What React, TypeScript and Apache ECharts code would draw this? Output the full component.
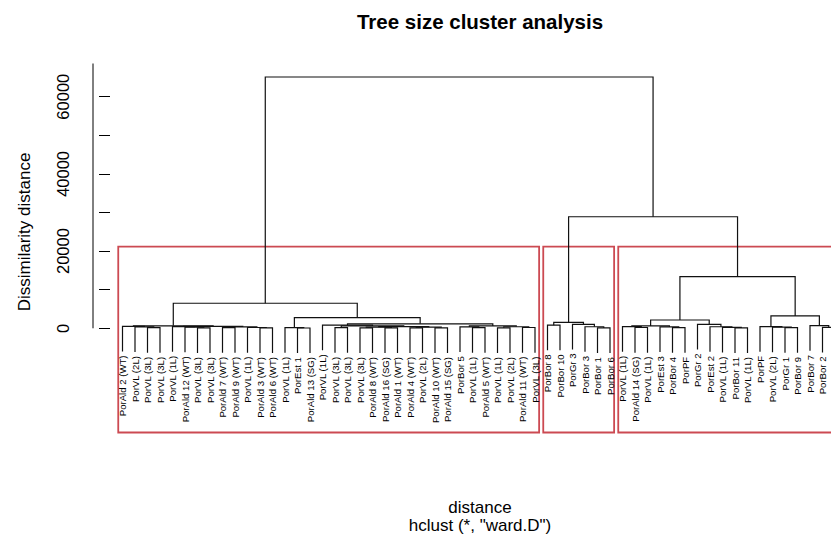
import React, { useEffect, useRef } from "react";
import * as echarts from "echarts";

// Leaf labels in dendrogram order (leaf 58 lies beyond the right edge of the picture)
const leafLabels: string[] = [
  "PorAld 2 (WT)", "PorVL (2L)", "PorVL (3L)", "PorVL (3L)", "PorVL (1L)",
  "PorAld 12 (WT)", "PorVL (3L)", "PorVL (3L)", "PorAld 7 (WT)", "PorAld 9 (WT)",
  "PorVL (1L)", "PorAld 3 (WT)", "PorAld 6 (WT)", "PorVL (1L)", "PorEst 1",
  "PorAld 13 (SG)", "PorVL (1L)", "PorVL (3L)", "PorVL (3L)", "PorVL (3L)",
  "PorAld 8 (WT)", "PorAld 16 (SG)", "PorAld 1 (WT)", "PorAld 4 (WT)", "PorVL (2L)",
  "PorAld 10 (WT)", "PorAld 15 (SG)", "PorBor 5", "PorVL (1L)", "PorAld 5 (WT)",
  "PorVL (1L)", "PorVL (2L)", "PorAld 11 (WT)", "PorVL (3L)",
  "PorBor 8", "PorBor 10", "PorGr 3", "PorBor 3", "PorBor 1", "PorBor 6",
  "PorVL (1L)", "PorAld 14 (SG)", "PorVL (1L)", "PorEst 3", "PorBor 4",
  "PorPF", "PorGr 2", "PorEst 2", "PorVL (1L)", "PorBor 11",
  "PorVL (1L)", "PorPF", "PorVL (2L)", "PorGr 1", "PorBor 9",
  "PorBor 7", "PorBor 2", "",
];

// hclust-style merge table: negative = leaf (1-based), positive = earlier merge (1-based); third = height
const merges: [number, number, number][] = [
  [-3, -4, 150], [-2, 1, 350], [-1, 2, 500],
  [-7, -8, 120], [-6, 4, 300], [-5, 5, 450],
  [-12, -13, 100], [-11, 7, 200], [-9, -10, 150], [9, 8, 380],
  [6, 10, 520], [3, 11, 650],
  [-15, -16, 80], [-14, 13, 180],
  [-18, -19, 150], [-20, -21, 120], [-22, -23, 100], [16, 17, 300],
  [-24, -25, 130], [-26, -27, 110], [19, 20, 280], [18, 21, 450],
  [15, 22, 600], [-17, 23, 800],
  [-29, -30, 150], [-28, 25, 350], [-31, -32, 120], [-33, -34, 200],
  [27, 28, 400], [26, 29, 600], [24, 30, 1150], [14, 31, 2750], [12, 32, 6480],
  [-39, -40, 100], [-38, 34, 400], [-37, 35, 1030], [-35, -36, 800], [37, 36, 1550],
  [-42, -43, 200], [-41, 39, 450], [-45, -46, 150], [-44, 41, 350], [40, 42, 600],
  [-50, -51, 100], [-49, 44, 250], [-48, 45, 400], [-47, 46, 1030], [43, 47, 2150],
  [-54, -55, 150], [-53, 49, 300], [-52, 50, 420], [-57, -58, 250], [-56, 52, 680],
  [51, 53, 3190], [48, 54, 13370], [38, 55, 28900], [33, 56, 65100],
];

const clusterSizes = [34, 6, 18];
const yTickValues = [0, 10000, 20000, 30000, 40000, 50000, 60000];
const yLabelValues = [0, 20000, 40000, 60000];
const hangFraction = 0.1;
const axisLineTop = 68600;

export default function App() {
  const ref = useRef<HTMLDivElement>(null);

  useEffect(() => {
    const chart = echarts.init(ref.current!, null, { renderer: "svg" });

    const maxH = Math.max(...merges.map((m) => m[2]));
    const hang = hangFraction * maxH;
    const nodeX: number[] = [];
    const nodeH: number[] = [];
    const leafBottom: number[] = new Array(leafLabels.length).fill(0);
    const segs: number[][] = [];
    merges.forEach((m) => {
      const h = m[2];
      const info = (c: number) => {
        if (c < 0) {
          leafBottom[-c - 1] = h - hang;
          return [-c, h - hang];
        }
        return [nodeX[c - 1], nodeH[c - 1]];
      };
      const [xL, hL] = info(m[0]);
      const [xR, hR] = info(m[1]);
      const a = xL <= xR ? [xL, hL, xR, hR] : [xR, hR, xL, hL];
      segs.push([a[0], a[2], h, a[1], a[3]]);
      nodeX.push((xL + xR) / 2);
      nodeH.push(h);
    });

    const sortedH = merges.map((m) => m[2]).sort((a, b) => b - a);
    const k = clusterSizes.length;
    const rectTop = (sortedH[k - 2] + sortedH[k - 1]) / 2;
    const yMin = -27000;
    const rects: number[][] = [];
    let cum = 0;
    clusterSizes.forEach((s) => {
      rects.push([cum + 0.66, cum + s + 0.33, rectTop]);
      cum += s;
    });

    const xMin = -1.36;
    const font = "Liberation Sans";

    chart.setOption({
      animation: false,
      backgroundColor: "#ffffff",
      grid: { left: 93, top: 58.1, width: 767, height: 374.4, outerBoundsMode: "none", containLabel: false },
      xAxis: { type: "value", min: xMin, max: 60, show: false },
      yAxis: {
        type: "value",
        min: yMin,
        max: 70000,
        axisLine: { show: false },
        splitLine: { show: false },
        axisTick: {
          show: true,
          length: 11,
          lineStyle: { color: "#000", width: 1 },
          customValues: yTickValues,
        },
        axisLabel: {
          customValues: yLabelValues,
          formatter: (v: number) => String(v),
          rotate: 90,
          fontSize: 16.5,
          fontFamily: font,
          color: "#000",
          margin: 22,
        },
      },
      series: [
        {
          type: "custom",
          name: "clusters",
          data: rects,
          encode: { x: [0, 1], y: 2 },
          renderItem: (params: any, api: any) => {
            const p1 = api.coord([api.value(0), api.value(2)]);
            const p2 = api.coord([api.value(1), yMin]);
            return {
              type: "rect",
              shape: { x: p1[0], y: p1[1], width: p2[0] - p1[0], height: p2[1] - p1[1] },
              style: { fill: "none", stroke: "#CC4A52", lineWidth: 1.8 },
            };
          },
        },
        {
          type: "custom",
          name: "tree",
          data: segs,
          encode: { x: [0, 1], y: [2, 3, 4] },
          renderItem: (params: any, api: any) => {
            const xL = api.value(0), xR = api.value(1), h = api.value(2), hL = api.value(3), hR = api.value(4);
            return {
              type: "polyline",
              shape: {
                points: [api.coord([xL, hL]), api.coord([xL, h]), api.coord([xR, h]), api.coord([xR, hR])],
              },
              style: { fill: "none", stroke: "#111", lineWidth: 1.2 },
            };
          },
        },
        {
          type: "custom",
          name: "labels",
          data: leafLabels.map((_, i) => [i + 1, leafBottom[i]]),
          encode: { x: 0, y: 1 },
          renderItem: (params: any, api: any) => {
            const text = leafLabels[params.dataIndex];
            if (!text) return null;
            const p = api.coord([api.value(0), api.value(1)]);
            return {
              type: "text",
              x: p[0],
              y: p[1] + 4,
              rotation: Math.PI / 2,
              style: {
                text,
                fill: "#000",
                fontSize: 9.6,
                fontFamily: font,
                align: "right",
                verticalAlign: "middle",
              },
            };
          },
        },
        {
          type: "custom",
          name: "yaxisline",
          data: [[xMin, 0, axisLineTop]],
          encode: { x: 0, y: [1, 2] },
          renderItem: (params: any, api: any) => {
            const a = api.coord([api.value(0), api.value(1)]);
            const b = api.coord([api.value(0), api.value(2)]);
            return {
              type: "line",
              shape: { x1: a[0], y1: a[1], x2: b[0], y2: b[1] },
              style: { stroke: "#000", lineWidth: 1 },
            };
          },
        },
      ],
      graphic: [
        {
          type: "text",
          x: 480,
          y: 21,
          style: {
            text: "Tree size cluster analysis",
            fontSize: 20.5,
            fontWeight: "bold",
            fontFamily: font,
            fill: "#000",
            align: "center",
            verticalAlign: "middle",
          },
        },
        {
          type: "text",
          x: 24,
          y: 232,
          rotation: Math.PI / 2,
          style: {
            text: "Dissimilarity distance",
            fontSize: 17,
            fontFamily: font,
            fill: "#000",
            align: "center",
            verticalAlign: "middle",
          },
        },
        {
          type: "text",
          x: 480,
          y: 507,
          style: {
            text: "distance",
            fontSize: 17,
            fontFamily: font,
            fill: "#000",
            align: "center",
            verticalAlign: "middle",
          },
        },
        {
          type: "text",
          x: 480,
          y: 525,
          style: {
            text: 'hclust (*, "ward.D")',
            fontSize: 17,
            fontFamily: font,
            fill: "#000",
            align: "center",
            verticalAlign: "middle",
          },
        },
      ],
    });

    return () => chart.dispose();
  }, []);

  return (
    <div
      ref={ref}
      style={{ position: "absolute", left: 0, top: 0, width: 831, height: 534 }}
    />
  );
}
